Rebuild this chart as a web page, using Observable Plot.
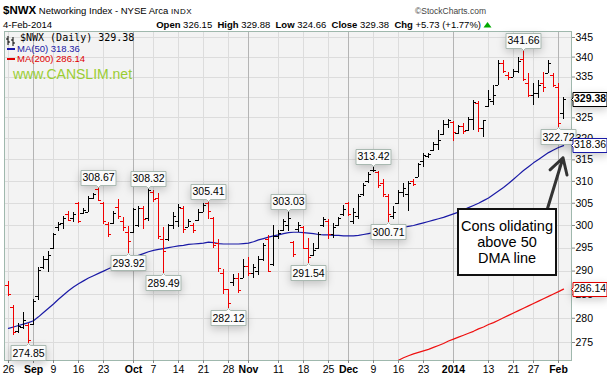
<!DOCTYPE html>
<html><head><meta charset="utf-8">
<script src="https://cdn.jsdelivr.net/npm/d3@7"></script>
<script src="https://cdn.jsdelivr.net/npm/@observablehq/plot@0.6"></script>
<style>
html,body{margin:0;padding:0;background:#fff;}
#wrap{position:relative;width:607px;height:376px;overflow:hidden;font-family:Arial,"Liberation Sans",sans-serif;color:#000;}
.abs{position:absolute;white-space:nowrap;line-height:1;}
#chart{position:absolute;left:0;top:30px;}
g[aria-label^="callout"] path, g[aria-label^="lastval"] path{filter:none !important;}
g[aria-label="lastval-ma50"]{color:#1a1aa6;}
g[aria-label="lastval-ma200"]{color:#e00000;}
#note{position:absolute;left:457px;top:208px;width:96px;height:64px;border:2px solid #111;background:#fff;font-size:14.5px;line-height:16px;text-align:center;display:flex;align-items:center;justify-content:center;}
</style></head>
<body><div id="wrap">
<div class="abs" style="left:3px;top:5px;font-size:9.5px"><b style="font-size:11.5px">$NWX</b> Networking Index - NYSE Arca <span style="font-size:8px;letter-spacing:0.5px">INDX</span></div>
<div class="abs" style="left:415px;top:7px;font-size:8.5px;color:#444">&copy;StockCharts.com</div>
<div class="abs" style="left:3px;top:19.5px;font-size:9.5px">4-Feb-2014</div>
<div class="abs" id="ohlc" style="right:115px;top:19.5px;font-size:9.5px"></div>
<div id="chart"></div>
<div class="abs" style="left:6px;top:33px"><svg width="10" height="10"><path d="M2,0V9M0,3H2M2,6H4M7,1V10M5,4H7M7,7H9" stroke="#000" stroke-width="1"/></svg></div>
<div class="abs" id="lg1" style="left:20px;top:33px;font-size:10px;font-family:'DejaVu Sans Mono',monospace"></div>
<div class="abs" style="left:7px;top:48px;width:8px;height:2px;background:#1a1aa6"></div>
<div class="abs" id="lg2" style="left:17px;top:44px;font-size:9.5px;color:#1a1aa6"></div>
<div class="abs" style="left:7px;top:58px;width:8px;height:2px;background:#e00000"></div>
<div class="abs" id="lg3" style="left:17px;top:54px;font-size:9.5px;color:#e00000"></div>
<div class="abs" style="left:13px;top:67px;font-size:14px;color:#9acd32">www.CANSLIM.net</div>
<div id="note"><div>Cons olidating<br>above 50<br>DMA line</div></div>
</div>
<script>
// ---- data ----
const dates = ["2013-08-26","2013-08-27","2013-08-28","2013-08-29","2013-08-30",
"2013-09-03","2013-09-04","2013-09-05","2013-09-06","2013-09-09","2013-09-10","2013-09-11","2013-09-12","2013-09-13","2013-09-16","2013-09-17","2013-09-18","2013-09-19","2013-09-20","2013-09-23","2013-09-24","2013-09-25","2013-09-26","2013-09-27","2013-09-30",
"2013-10-01","2013-10-02","2013-10-03","2013-10-04","2013-10-07","2013-10-08","2013-10-09","2013-10-10","2013-10-11","2013-10-14","2013-10-15","2013-10-16","2013-10-17","2013-10-18","2013-10-21","2013-10-22","2013-10-23","2013-10-24","2013-10-25","2013-10-28","2013-10-29","2013-10-30","2013-10-31",
"2013-11-01","2013-11-04","2013-11-05","2013-11-06","2013-11-07","2013-11-08","2013-11-11","2013-11-12","2013-11-13","2013-11-14","2013-11-15","2013-11-18","2013-11-19","2013-11-20","2013-11-21","2013-11-22","2013-11-25","2013-11-26","2013-11-27","2013-11-29",
"2013-12-02","2013-12-03","2013-12-04","2013-12-05","2013-12-06","2013-12-09","2013-12-10","2013-12-11","2013-12-12","2013-12-13","2013-12-16","2013-12-17","2013-12-18","2013-12-19","2013-12-20","2013-12-23","2013-12-24","2013-12-26","2013-12-27","2013-12-30","2013-12-31",
"2014-01-02","2014-01-03","2014-01-06","2014-01-07","2014-01-08","2014-01-09","2014-01-10","2014-01-13","2014-01-14","2014-01-15","2014-01-16","2014-01-17","2014-01-21","2014-01-22","2014-01-23","2014-01-24","2014-01-27","2014-01-28","2014-01-29","2014-01-30","2014-01-31",
"2014-02-03","2014-02-04"];

const opens = [287.0,282.3,277.3,278.0,278.5, 278.8,284.5,290.8,292.5,295.0,299.5,300.5,302.5,301.5,305.0,302.6,303.0,306.0,308.2,305.0,300.3,300.5,304.0,301.0,298.5,
298.5,300.0,303.8,301.5,307.5,306.0,297.0,297.0,300.0,301.0,303.8,299.6,300.0,301.2,303.0,305.0,301.5,296.0,289.5,286.0,287.5,288.5,288.5,
291.0,289.5,290.0,292.5,297.0,291.5,297.5,298.8,300.0,296.3,299.0,299.5,295.0,293.3,295.0,300.0,301.0,298.0,300.0,302.5,
305.0,301.0,302.0,307.0,310.0,312.5,312.0,309.5,306.5,302.0,305.0,307.5,307.0,310.0,311.0,314.5,315.8,317.2,318.5,321.0,323.5,
323.8,321.3,323.0,322.0,324.5,328.5,322.5,327.8,329.0,333.0,338.5,335.5,335.0,336.5,339.5,333.5,330.5,331.0,333.5,336.0,335.5,
332.5,326.15];
const highs = [287.8,282.6,279.0,281.2,279.0, 284.0,290.7,293.1,294.2,298.3,300.6,302.0,303.2,302.8,305.2,303.7,306.5,307.3,308.67,305.2,300.6,303.2,305.8,301.7,299.8,
303.9,304.3,304.3,308.32,308.0,307.3,299.5,300.3,302.8,304.7,304.3,301.3,300.4,303.5,304.9,305.41,301.7,296.9,290.4,286.1,289.3,289.5,292.5,
292.9,291.5,293.2,296.0,297.8,300.0,298.8,301.4,303.03,296.5,300.6,299.8,297.2,296.0,298.4,301.7,301.3,300.5,301.7,304.6,
305.2,303.9,306.9,309.6,312.1,313.42,312.3,310.4,307.0,304.2,307.9,309.6,310.0,310.4,314.2,316.4,316.4,319.0,322.0,324.4,324.6,
324.1,323.2,323.6,325.1,329.3,328.9,324.4,331.7,332.9,339.2,339.1,336.1,337.0,340.0,341.66,335.8,333.3,334.2,336.2,339.2,336.0,
333.3,329.88];
const lows = [284.6,276.5,276.8,277.6,274.85, 278.4,283.8,290.4,289.6,294.7,298.7,299.0,300.9,300.6,300.4,302.4,302.8,305.8,305.3,300.3,297.3,300.3,301.3,298.7,293.92,
298.2,299.5,299.0,300.9,305.1,296.9,289.49,296.5,299.0,299.5,298.3,299.5,298.3,301.0,302.8,301.3,295.0,289.6,284.9,282.12,286.8,285.3,288.3,
288.8,288.3,289.0,292.0,289.6,291.0,296.8,298.6,298.6,293.0,298.4,294.7,291.54,293.2,294.7,299.5,296.9,297.2,299.8,302.0,
302.0,300.2,301.3,306.6,309.5,312.1,308.4,306.3,300.71,301.3,304.8,306.3,303.1,308.9,310.9,313.3,315.3,317.0,317.3,320.8,322.5,
319.3,321.0,321.0,321.8,322.0,321.4,320.2,327.5,328.1,332.9,335.8,334.2,334.8,335.8,333.9,330.0,328.0,329.6,331.2,335.8,332.3,
322.72,324.66];
const closes = [285.1,277.0,278.2,279.6,275.5, 283.6,290.2,292.5,293.3,298.0,300.2,301.5,301.2,302.5,300.8,303.3,306.0,307.0,305.6,301.0,298.0,302.7,302.0,299.5,296.5,
303.5,303.8,301.3,307.8,305.8,297.5,294.3,300.0,302.0,304.0,299.0,301.0,298.8,303.0,304.6,303.2,295.5,290.5,286.0,283.0,288.5,285.8,291.0,
289.5,290.8,292.5,295.5,290.0,297.6,298.2,300.8,301.5,293.5,300.0,295.0,293.0,294.5,298.0,301.3,298.0,299.5,301.5,303.5,
302.5,303.0,306.5,309.0,311.5,312.6,309.0,307.0,302.5,303.0,307.5,308.3,309.5,309.2,313.8,316.0,316.2,318.5,319.6,323.5,324.3,
321.5,322.8,321.8,324.5,328.8,322.5,324.3,329.5,330.5,338.5,336.5,334.8,336.5,339.0,334.5,330.5,331.0,333.0,332.5,338.3,333.0,
323.65,329.38];
const priorClose = 287.9; // close of the session before the first bar

const ma50 = [277.9,278.2,278.5,278.8,279.1, 279.5,280.3,281.2,282.1,283.0,284.0,284.9,285.8,286.6,287.3,287.9,288.5,289.0,289.5,290.0,290.5,291.0,291.5,292.0,292.5,
293.0,293.4,293.8,294.2,294.5,294.7,294.9,295.1,295.3,295.5,295.6,295.8,295.9,296.0,296.1,296.3,296.2,296.0,295.9,295.9,295.9,295.9,296.0,
296.1,296.4,296.8,297.1,297.4,297.7,297.9,298.2,298.4,298.5,298.5,298.4,298.3,298.2,298.0,297.9,297.9,297.8,297.8,297.7,
297.7,297.7,297.8,298.0,298.2,298.4,298.6,298.8,299.0,299.2,299.4,299.6,299.8,300.0,300.3,300.6,300.9,301.2,301.5,301.8,302.2,
302.6,303.0,303.5,304.0,304.5,305.0,305.6,306.2,307.0,307.8,308.6,309.5,310.5,311.5,312.5,313.4,314.3,315.1,315.9,316.7,317.3,
317.9,318.36];
const ma200Start = 77; // index of first listed MA(200) value
const ma200 = [270.9,271.4,271.9,272.3,272.7,273.0,273.3,273.6,274.0,274.4,274.8,275.3,
275.7,276.1,276.5,276.9,277.3,277.8,278.2,278.7,279.1,279.6,280.1,280.6,281.1,281.6,282.1,282.6,283.1,283.6,284.1,284.6,285.1,
285.6,286.14];

const xTickIdx    = [0,5,9,14,19,25,29,34,39,44,48,54,59,64,68,73,78,83,89,96,101,105,110];
const xTickLabels = ["26","Sep","9","16","23","Oct","7","14","21","28","Nov","11","18","25","Dec","9","16","23","2014","13","21","27","Feb"];
const monthLabels = ["Sep","Oct","Nov","Dec","2014","Feb"];
const yTicks = [275,280,285,290,295,300,305,310,315,320,325,330,335,340,345];

const calloutHighIdx = [18,28,40,56,73,103];
const calloutLowIdx  = [4,24,31,44,60,76,110];

const session = {open:326.15, high:329.88, low:324.66, close:329.38, chg:5.73, pct:1.77};
const noteArrow = {x1:107.8, y1:303.8, x2:110.9, y2:315.5};

// ---- build ----
const last = closes.length - 1;
document.getElementById("ohlc").innerHTML =
  `<b>Open</b> ${session.open.toFixed(2)} &nbsp;<b>High</b> ${session.high.toFixed(2)} &nbsp;<b>Low</b> ${session.low.toFixed(2)} &nbsp;<b>Close</b> ${session.close.toFixed(2)} &nbsp;<b>Chg</b> +${session.chg.toFixed(2)} (+${session.pct.toFixed(2)}%)<svg width="9" height="7" style="margin-left:2px"><path d="M0.5,6.5L4.5,1L8.5,6.5Z" fill="#0a0"/></svg>`;
document.getElementById("lg1").textContent = `$NWX (Daily) ${closes[last].toFixed(2)}`;
document.getElementById("lg2").textContent = `MA(50) ${ma50[last].toFixed(2)}`;
document.getElementById("lg3").textContent = `MA(200) ${ma200[ma200.length-1].toFixed(2)}`;

const bars = dates.map((d, i) => ({i, o: opens[i], h: highs[i], l: lows[i], c: closes[i],
  up: closes[i] >= (i ? closes[i-1] : priorClose)}));
const upBars = bars.filter(b => b.up), downBars = bars.filter(b => !b.up);
const labelOf = new Map(xTickIdx.map((i, k) => [i, xTickLabels[k]]));
const monthIdx = xTickIdx.filter(i => monthLabels.includes(labelOf.get(i)));
const dayIdx = xTickIdx.filter(i => !monthLabels.includes(labelOf.get(i)));
const ma50Data = ma50.map((v, i) => ({i, v}));
const ma200Data = ma200.map((v, k) => ({i: ma200Start + k, v}));

function barMarks(data, color) {
  return [
    Plot.ruleX(data, {x: "i", y1: "l", y2: "h", stroke: color, strokeWidth: 1, shapeRendering: "crispEdges"}),
    Plot.ruleY(data, {y: "o", x1: d => d.i - 0.6, x2: "i", stroke: color, strokeWidth: 1, shapeRendering: "crispEdges"}),
    Plot.ruleY(data, {y: "c", x1: "i", x2: d => d.i + 0.6, stroke: color, strokeWidth: 1, shapeRendering: "crispEdges"})
  ];
}

const tipOpts = {fontSize: 10.5, textPadding: 1.5, pointerSize: 4, fill: "#fbfbfb", stroke: "#a9b9b1", fontFamily: "Arial, 'Liberation Sans', sans-serif"};
const lastOpts = {anchor: "left", fontSize: 10.5, textPadding: 1, pointerSize: 3, fill: "#fff", fontFamily: "Arial, 'Liberation Sans', sans-serif"};
const hasTip = typeof Plot.tip === "function";

const marks = [
  Plot.frame({fill: "#f3f3f3"}),
  Plot.ruleY(yTicks, {stroke: "#dcdcdc", shapeRendering: "crispEdges"}),
  Plot.ruleX(dayIdx, {stroke: "#dcdcdc", shapeRendering: "crispEdges"}),
  Plot.ruleX(monthIdx, {stroke: "#b4b4b4", shapeRendering: "crispEdges"}),
  Plot.line(ma200Data, {x: "i", y: "v", stroke: "#ee1010", strokeWidth: 1.2, clip: true}),
  Plot.line(ma50Data, {x: "i", y: "v", stroke: "#1a1aa6", strokeWidth: 1.2, clip: true}),
  ...barMarks(upBars, "#000"),
  ...barMarks(downBars, "#f00000"),
  Plot.frame({stroke: "#9fb8ad"}),
  Plot.axisY(yTicks, {anchor: "right", tickSize: 3, tickPadding: 1, fontSize: 10.5, tickFormat: d => String(d), stroke: "#888"}),
  Plot.axisX(dayIdx, {tickSize: 3, tickPadding: 2, fontSize: 10.5, tickFormat: i => labelOf.get(i), stroke: "#888"}),
  Plot.axisX(monthIdx, {tickSize: 3, tickPadding: 2, fontSize: 10.5, fontWeight: "bold", tickFormat: i => labelOf.get(i), stroke: "#888"}),
  Plot.arrow([noteArrow], {x1: "x1", y1: "y1", x2: "x2", y2: "y2", stroke: "#333", strokeWidth: 3, headLength: 12})
];
if (hasTip) {
  marks.push(
    Plot.tip(calloutHighIdx, {x: i => i, y: i => highs[i], title: i => highs[i].toFixed(2), anchor: "bottom", ariaLabel: "callout-high", ...tipOpts}),
    Plot.tip(calloutLowIdx, {x: i => i, y: i => lows[i], title: i => lows[i].toFixed(2), anchor: "top", ariaLabel: "callout-low", ...tipOpts}),
    Plot.tip([closes[last]], {x: () => 112.6, y: v => v, title: v => v.toFixed(2), ariaLabel: "lastval-close", fontWeight: "bold", stroke: "#000", ...lastOpts}),
    Plot.tip([ma50[last]], {x: () => 112.6, y: v => v, title: v => v.toFixed(2), ariaLabel: "lastval-ma50", stroke: "#1a1aa6", ...lastOpts}),
    Plot.tip([ma200[ma200.length-1]], {x: () => 112.6, y: v => v, title: v => v.toFixed(2), ariaLabel: "lastval-ma200", stroke: "#e00000", ...lastOpts})
  );
} else {
  marks.push(
    Plot.text(calloutHighIdx, {x: i => i, y: i => highs[i], text: i => highs[i].toFixed(2), dy: -9, fontSize: 10.5}),
    Plot.text(calloutLowIdx, {x: i => i, y: i => lows[i], text: i => lows[i].toFixed(2), dy: 9, fontSize: 10.5})
  );
}

const chart = Plot.plot({
  width: 607, height: 346,
  marginLeft: 4, marginRight: 36, marginTop: 1, marginBottom: 16,
  style: {background: "transparent", fontFamily: "Arial, 'Liberation Sans', sans-serif", overflow: "visible", color: "#000"},
  x: {domain: [-0.8, 112.6], axis: null},
  y: {type: "log", domain: [271.35, 346.54], axis: null},
  marks
});
document.getElementById("chart").appendChild(chart);
</script>
</body></html>
